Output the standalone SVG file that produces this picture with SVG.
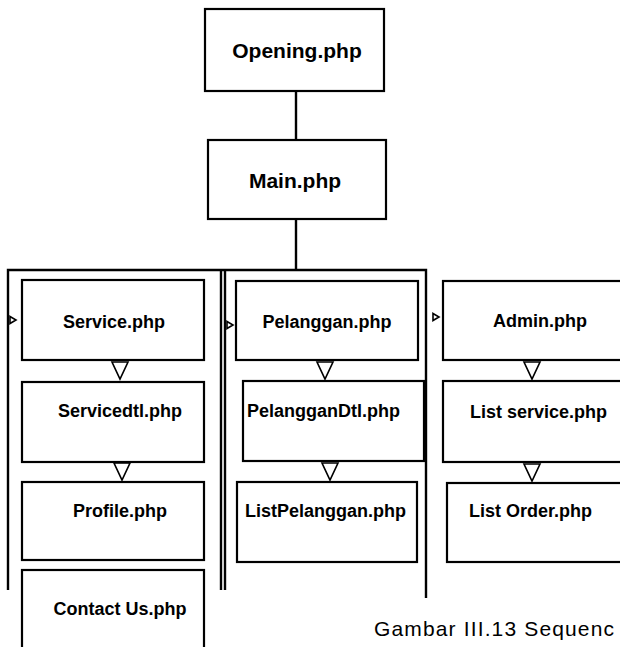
<svg xmlns="http://www.w3.org/2000/svg" xmlns:xlink="http://www.w3.org/1999/xlink" width="620" height="647" viewBox="0 0 620 647">
<style>
  .box { fill: #ffffff; stroke: #000000; stroke-width: 2.2; }
  .lbl { font-family: "Liberation Sans", Arial, sans-serif; font-weight: bold; font-size: 18px; fill: #000000; }
  .big { font-size: 21px; }
  .ln { fill: none; stroke: #000000; stroke-width: 2.4; }
  .tri { fill: #ffffff; stroke: #000000; stroke-width: 1.6; }
  .cap { font-family: "Liberation Sans", Arial, sans-serif; font-size: 21px; fill: #000000; }
</style>
<defs>
  <path id="down" d="M-8,0 L8,0 L0,17 Z"/>
  <path id="side" d="M0,-3.5 L6,0 L0,3.5 Z"/>
</defs>
<rect width="620" height="647" fill="#ffffff"/>

<g id="connectors">
  <line class="ln" x1="296" y1="91" x2="296" y2="140"/>
  <line class="ln" x1="296" y1="219" x2="296" y2="270"/>
  <path class="ln" d="M8,590 V270 H426 V598"/>
  <line class="ln" x1="221" y1="270" x2="221" y2="590"/>
  <line class="ln" x1="225" y1="270" x2="225" y2="590"/>
  <use href="#side" class="tri" x="10" y="320"/>
  <use href="#side" class="tri" x="227" y="325"/>
  <use href="#side" class="tri" x="433" y="317"/>
  <use href="#down" class="tri" x="120" y="362"/>
  <use href="#down" class="tri" x="122" y="463"/>
  <use href="#down" class="tri" x="325" y="362"/>
  <use href="#down" class="tri" x="330" y="463"/>
  <use href="#down" class="tri" x="532" y="362"/>
  <use href="#down" class="tri" x="532" y="464"/>
</g>

<g id="opening">
  <rect class="box" x="205" y="9" width="179" height="82"/>
  <text class="lbl big" x="297" y="58" text-anchor="middle">Opening.php</text>
</g>
<g id="main">
  <rect class="box" x="208" y="140" width="178" height="79"/>
  <text class="lbl big" x="295" y="188" text-anchor="middle">Main.php</text>
</g>

<g id="service">
  <rect class="box" x="22" y="280" width="182" height="80"/>
  <text class="lbl" x="114" y="328" text-anchor="middle">Service.php</text>
</g>
<g id="servicedtl">
  <rect class="box" x="22" y="382" width="182" height="80"/>
  <text class="lbl" x="120" y="417" text-anchor="middle">Servicedtl.php</text>
</g>
<g id="profile">
  <rect class="box" x="22" y="482" width="182" height="78"/>
  <text class="lbl" x="120" y="517" text-anchor="middle">Profile.php</text>
</g>
<g id="contactus">
  <rect class="box" x="22" y="570" width="182" height="90"/>
  <text class="lbl" x="120" y="615" text-anchor="middle">Contact Us.php</text>
</g>

<g id="pelanggan">
  <rect class="box" x="236" y="281" width="182" height="79"/>
  <text class="lbl" x="327" y="328" text-anchor="middle">Pelanggan.php</text>
</g>
<g id="pelanggandtl">
  <rect class="box" x="243" y="381" width="181" height="80"/>
  <text class="lbl" x="247" y="417">PelangganDtl.php</text>
</g>
<g id="listpelanggan">
  <rect class="box" x="237" y="482" width="180" height="80"/>
  <text class="lbl" x="245" y="517">ListPelanggan.php</text>
</g>

<g id="admin">
  <rect class="box" x="443" y="281" width="190" height="79"/>
  <text class="lbl" x="540" y="327" text-anchor="middle">Admin.php</text>
</g>
<g id="listservice">
  <rect class="box" x="443" y="381" width="190" height="81"/>
  <text class="lbl" x="470" y="418">List service.php</text>
</g>
<g id="listorder">
  <rect class="box" x="447" y="483" width="190" height="79"/>
  <text class="lbl" x="469" y="517">List Order.php</text>
</g>

<text class="cap" x="374" y="636" textLength="240" lengthAdjust="spacing">Gambar III.13 Sequenc</text>
</svg>
